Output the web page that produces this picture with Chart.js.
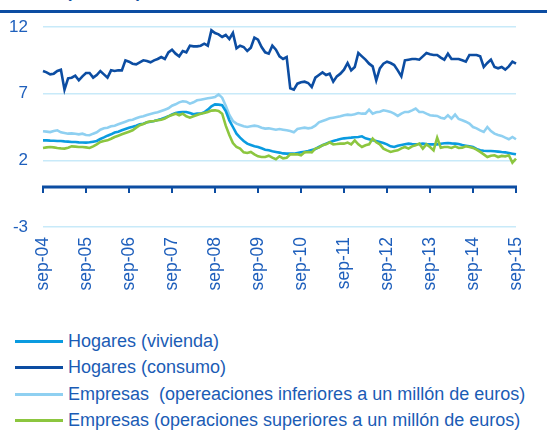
<!DOCTYPE html>
<html>
<head>
<meta charset="utf-8">
<script src="https://cdn.jsdelivr.net/npm/chart.js@4.4.1/dist/chart.umd.min.js"></script>
<style>
    body { margin: 0; background: #fff; font-family: "Liberation Sans", Arial, sans-serif; }
    #wrap { position: relative; width: 547px; height: 430px; overflow: hidden; }
    #titulo { position: absolute; left: 66px; top: -16px; font-size: 17px; line-height: 17px; font-weight: bold; color: #0c4da2; white-space: nowrap; }
    #regla { position: absolute; left: 0; top: 10px; width: 547px; height: 3px; background: #0c4da2; }
    #chart_box { position: absolute; left: 0; top: 0; width: 547px; height: 300px; }
    #leyenda { position: absolute; left: 15px; top: 328px; }
    .item { height: 26.5px; display: flex; align-items: center; font-size: 18px; color: #1b5cb5; white-space: pre; }
    .item span.linea { display: inline-block; width: 48px; height: 3px; margin-right: 5px; }
</style>
</head>
<body>
<div id="wrap">
    <div id="titulo">(% anual)</div>
    <div id="regla"></div>
    <div id="chart_box"><canvas id="grafico"></canvas></div>
    <div id="leyenda"></div>
</div>
<script>
//tick labels shown on the x axis, one every 12 months
var tickLabels = ["sep-04", "sep-05", "sep-06", "sep-07", "sep-08", "sep-09", "sep-10", "sep-11", "sep-12", "sep-13", "sep-14", "sep-15"];
var meses = ["sep", "oct", "nov", "dic", "ene", "feb", "mar", "abr", "may", "jun", "jul", "ago"];
var yTicks = [-3, 0, 2, 7, 12];

var seriesNames = [
    "Hogares (vivienda)",
    "Hogares (consumo)",
    "Empresas  (opereaciones inferiores a un millón de euros)",
    "Empresas (operaciones superiores a un millón de euros)"
];

//monthly values, sep-04 to sep-15
var vivienda = [3.5, 3.5, 3.48, 3.47, 3.45, 3.45, 3.42, 3.4, 3.38, 3.37,
    3.35, 3.34, 3.33, 3.35, 3.4, 3.45, 3.6, 3.72, 3.85, 3.95,
    4.08, 4.15, 4.25, 4.35, 4.45, 4.52, 4.6, 4.7, 4.75, 4.85,
    4.9, 4.95, 5.02, 5.1, 5.2, 5.3, 5.45, 5.55, 5.6, 5.63,
    5.63, 5.55, 5.45, 5.5, 5.5, 5.6, 5.8, 6.05, 6.2, 6.18,
    6.13, 5.7, 5.0, 4.5, 4.0, 3.7, 3.45, 3.25, 3.15, 3.05,
    3.0, 2.9, 2.8, 2.75, 2.68, 2.63, 2.58, 2.52, 2.5, 2.5,
    2.5, 2.55, 2.6, 2.65, 2.7, 2.78, 2.85, 3.0, 3.13, 3.25,
    3.35, 3.45, 3.52, 3.6, 3.65, 3.68, 3.7, 3.73, 3.75, 3.8,
    3.65, 3.58, 3.5, 3.45, 3.38, 3.3, 3.2, 3.05, 3.0, 3.1,
    3.15, 3.2, 3.25, 3.22, 3.2, 3.22, 3.25, 3.22, 3.2, 3.2,
    3.2, 3.25, 3.28, 3.3, 3.27, 3.25, 3.22, 3.15, 3.1, 3.05,
    3.0, 2.85, 2.75, 2.72, 2.7, 2.7, 2.68, 2.65, 2.62, 2.6,
    2.55, 2.5, 2.45];

var consumo = [8.7, 8.6, 8.45, 8.5, 8.7, 8.8, 7.3, 8.15, 8.2, 8.35,
    8.0, 8.3, 8.55, 8.55, 8.2, 8.4, 8.7, 8.45, 8.2, 8.75,
    8.7, 8.75, 8.75, 9.5, 9.4, 9.25, 9.2, 9.35, 9.5, 9.45,
    9.35, 9.5, 9.6, 9.75, 9.6, 10.1, 10.3, 10.0, 9.8, 10.2,
    10.1, 10.6, 10.55, 10.55, 10.6, 10.75, 10.6, 11.75, 11.55, 11.45,
    11.25, 11.4, 11.1, 11.55, 10.4, 10.6, 10.5, 10.2, 10.45, 11.2,
    11.05, 10.5, 10.1, 10.0, 10.6, 10.3, 9.8, 9.6, 9.75, 7.4,
    7.3, 7.75, 7.85, 7.9, 7.8, 7.5, 8.2, 8.4, 8.6, 8.4,
    8.5, 7.9, 8.3, 8.5, 8.8, 9.3, 8.75, 9.0, 10.05, 9.8,
    9.55, 9.25, 9.05, 8.0, 8.9, 9.25, 9.4, 9.3, 9.15, 8.75,
    8.3, 9.5, 9.55, 9.6, 9.6, 9.55, 9.8, 10.05, 9.95, 9.9,
    9.9, 9.7, 9.55, 10.0, 9.6, 9.6, 9.6, 9.5, 9.4, 9.9,
    9.9, 9.9, 9.8, 9.0, 9.3, 9.55, 9.0, 8.9, 9.0, 8.8,
    9.05, 9.4, 9.25];

var inferiores = [4.18, 4.15, 4.12, 4.2, 4.25, 4.1, 4.05, 4.0, 4.02, 4.0,
    3.95, 4.0, 3.9, 3.88, 4.0, 4.1, 4.3, 4.4, 4.45, 4.55,
    4.6, 4.7, 4.8, 4.9, 5.0, 5.05, 5.15, 5.25, 5.3, 5.4,
    5.48, 5.55, 5.6, 5.7, 5.8, 5.9, 6.1, 6.2, 6.35, 6.43,
    6.4, 6.25, 6.35, 6.5, 6.55, 6.6, 6.65, 6.7, 6.75, 6.95,
    6.7, 6.1, 5.4, 4.95, 4.75, 4.65, 4.55, 4.5, 4.55, 4.6,
    4.55, 4.45, 4.38, 4.4, 4.35, 4.3, 4.35, 4.3, 4.25, 4.2,
    4.1, 4.35, 4.4, 4.45, 4.4, 4.45, 4.6, 4.85, 4.95, 5.05,
    5.15, 5.2, 5.25, 5.3, 5.38, 5.43, 5.4, 5.45, 5.55, 5.5,
    5.5, 5.8, 5.5, 5.6, 5.65, 5.75, 5.7, 5.63, 5.5, 5.33,
    5.5, 5.63, 5.63, 5.75, 5.88, 5.63, 5.63, 5.5, 5.38, 5.35,
    5.33, 5.2, 5.13, 5.38, 5.13, 5.43, 5.1, 5.0, 4.9, 4.75,
    4.5, 4.4, 4.25, 4.13, 4.5, 4.2, 4.0, 3.9, 3.83, 3.7,
    3.58, 3.75, 3.58];

var superiores = [2.93, 2.97, 3.0, 2.97, 2.93, 2.9, 2.88, 2.95, 3.05, 3.03,
    3.0, 3.0, 2.97, 2.93, 3.05, 3.2, 3.38, 3.45, 3.5, 3.62,
    3.75, 3.85, 3.95, 4.05, 4.15, 4.25, 4.45, 4.63, 4.72, 4.85,
    4.92, 4.95, 5.0, 5.05, 5.13, 5.3, 5.4, 5.5, 5.38, 5.5,
    5.3, 5.2, 5.3, 5.4, 5.5, 5.55, 5.63, 5.73, 5.75, 5.7,
    5.5, 4.6, 3.9, 3.3, 3.0, 2.88, 2.6, 2.55, 2.63, 2.45,
    2.3, 2.25, 2.25, 2.35, 2.2, 2.08, 2.3, 2.15, 2.2, 2.45,
    2.45, 2.45, 2.38, 2.6, 2.62, 2.6, 2.88, 2.95, 3.13, 3.2,
    3.35, 3.2, 3.22, 3.25, 3.25, 3.33, 3.2, 3.5, 3.2, 3.0,
    3.13, 3.2, 3.63, 3.35, 3.2, 2.88, 2.75, 2.63, 2.7, 2.75,
    2.9, 3.0, 2.88, 3.05, 3.13, 3.25, 2.88, 3.2, 3.0, 2.75,
    3.7, 2.95, 3.0, 3.0, 2.93, 3.05, 2.93, 2.95, 3.05, 3.0,
    2.93, 2.8, 2.63, 2.45, 2.25, 2.35, 2.38, 2.25, 2.33, 2.3,
    2.38, 1.83, 2.13];

//month categories built from the month names, year changes in "ene"
var categorias = [];
var anio = 4;
for (var i = 0; i < vivienda.length; i++) {
    var m = meses[i % 12];
    if (m === "ene") anio++;
    categorias.push(m + "-" + String(anio).padStart(2, "0"));
}

var azulTexto = "#1e5fbc";
var azulOscuro = "#0c4da2";

//draws the zero axis line with the yearly tick marks
var ejeCero = {
    id: "ejeCero",
    beforeDatasetsDraw: function (chart) {
        var ctx = chart.ctx;
        var x = chart.scales.x;
        var y0 = chart.scales.y.getPixelForValue(0);
        ctx.save();
        ctx.strokeStyle = azulOscuro;
        ctx.lineWidth = 3;
        ctx.beginPath();
        ctx.moveTo(chart.chartArea.left - 1, y0);
        ctx.lineTo(chart.chartArea.right + 1, y0);
        ctx.stroke();
        ctx.lineWidth = 2;
        for (var k = 0; k < tickLabels.length; k++) {
            var px = x.getPixelForValue(k * 12);
            ctx.beginPath();
            ctx.moveTo(px, y0);
            ctx.lineTo(px, y0 + 6);
            ctx.stroke();
        }
        ctx.restore();
    }
};

var datasets = [
    { label: seriesNames[0], data: vivienda, borderColor: "#0a9be0", order: 1 },
    { label: seriesNames[1], data: consumo, borderColor: azulOscuro, order: 3 },
    { label: seriesNames[2], data: inferiores, borderColor: "#8fd0f1", order: 2 },
    { label: seriesNames[3], data: superiores, borderColor: "#8cc63f", order: 0 }
];
datasets.forEach(function (d) {
    d.backgroundColor = d.borderColor;
    d.borderWidth = 2.6;
    d.pointRadius = 0;
    d.fill = false;
    d.tension = 0;
});

var myChart = document.getElementById("grafico").getContext("2d");
var chart = new Chart(myChart, {
    type: "line",
    data: { labels: categorias, datasets: datasets },
    plugins: [ejeCero],
    options: {
        responsive: true,
        maintainAspectRatio: false,
        animation: false,
        layout: { padding: { top: 27, right: 30, left: 0, bottom: 0 } },
        plugins: { legend: { display: false }, tooltip: { enabled: false } },
        scales: {
            x: {
                offset: false,
                border: { display: false },
                grid: { display: false, drawTicks: false },
                afterFit: function (s) { s.height = 73; },
                ticks: {
                    autoSkip: false,
                    maxRotation: 90,
                    minRotation: 90,
                    padding: 10,
                    color: azulTexto,
                    font: { family: "Liberation Sans", size: 17.5 },
                    callback: function (val, idx) {
                        return idx % 12 === 0 ? tickLabels[idx / 12] : null;
                    }
                }
            },
            y: {
                min: -3,
                max: 12,
                border: { display: false },
                afterBuildTicks: function (s) {
                    s.ticks = yTicks.map(function (v) { return { value: v }; });
                },
                afterFit: function (s) { s.width = 43; },
                grid: {
                    drawTicks: false,
                    lineWidth: 1.5,
                    color: function (c) {
                        return c.tick && c.tick.value === 0 ? "rgba(0,0,0,0)" : "#c8eaf9";
                    }
                },
                ticks: {
                    padding: 15,
                    color: azulTexto,
                    font: { family: "Liberation Sans", size: 17 },
                    callback: function (v) { return v === 0 ? "" : v; }
                }
            }
        }
    }
});

//legend drawn from the chart datasets
var ley = document.getElementById("leyenda");
datasets.forEach(function (d) {
    var row = document.createElement("div");
    row.className = "item";
    row.innerHTML = "<span class=\"linea\" style=\"background:" + d.borderColor + "\"></span>" + d.label;
    ley.appendChild(row);
});
</script>
</body>
</html>
